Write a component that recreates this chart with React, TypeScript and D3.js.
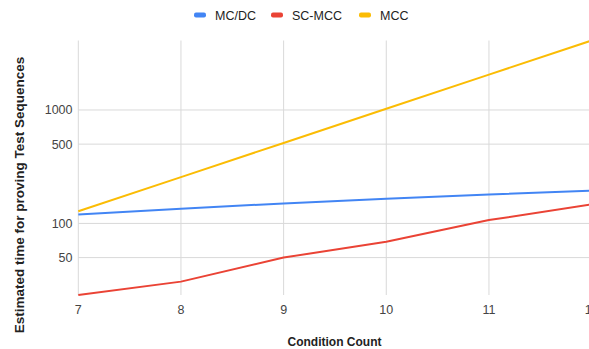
import React from "react";
import * as d3 from "d3";

const conditionCounts = [7, 8, 9, 10, 11, 12];
const mcdc = [120, 135, 150, 165, 180, 195];
const scmcc = [23.4, 30.7, 50, 69, 107, 147];
const mcc = [128, 256, 512, 1024, 2048, 4096];
const yTicks = [50, 100, 500, 1000];
const seriesNames = ["MC/DC", "SC-MCC", "MCC"];
const seriesColors = ["#4285F4", "#EA4335", "#FBBC04"];

const W = 589;
const H = 349;
const FONT = "Arial, 'Liberation Sans', sans-serif";

export default function App() {
  const x = d3.scaleLinear().domain([7, 12]).range([78.3, 591.6]);
  const allVals = [...mcdc, ...scmcc, ...mcc];
  const y = d3
    .scaleLog()
    .domain([d3.min(allVals) as number, d3.max(allVals) as number])
    .range([295, 40.5]);
  const line = d3
    .line<number>()
    .x((_, i) => x(conditionCounts[i]))
    .y((d) => y(d));
  const series = [mcdc, scmcc, mcc];
  const [yTop, yBot] = [y.range()[1], y.range()[0]];

  const legendX = [194, 271, 359];
  return (
    <svg
      width={W}
      height={H}
      style={{ position: "absolute", left: 0, top: 0, background: "#fff" }}
      fontFamily={FONT}
    >
      <rect width={W} height={H} fill="#fff" />
      {/* legend */}
      {seriesNames.map((n, i) => (
        <g key={n} transform={`translate(${legendX[i]},15)`}>
          <rect x={0} y={-2.5} width={12} height={5} rx={2} fill={seriesColors[i]} />
          <text x={21} y={4.5} fontSize={12.5} fill="#222">
            {n}
          </text>
        </g>
      ))}
      {/* horizontal gridlines */}
      {yTicks.map((t) => (
        <g key={t}>
          <line x1={x(7)} x2={W} y1={y(t)} y2={y(t)} stroke="#d9d9d9" strokeWidth={1} />
          <text x={72.5} y={y(t)} dy="0.35em" textAnchor="end" fontSize={12.5} fill="#444">
            {t}
          </text>
        </g>
      ))}
      {/* vertical gridlines */}
      {conditionCounts.map((c) => (
        <g key={c}>
          <line x1={x(c)} x2={x(c)} y1={yTop} y2={yBot} stroke="#d9d9d9" strokeWidth={1} />
          <text x={x(c)} y={310} dy="0.35em" textAnchor="middle" fontSize={12.5} fill="#444">
            {c}
          </text>
        </g>
      ))}
      {/* lines */}
      {series.map((s, i) => (
        <path
          key={i}
          d={line(s) || ""}
          fill="none"
          stroke={seriesColors[i]}
          strokeWidth={2}
          strokeLinejoin="round"
        />
      ))}
      {/* axis titles */}
      <text
        x={334.5}
        y={341.5}
        dy="0.35em"
        textAnchor="middle"
        fontSize={12}
        fontWeight="bold"
        fill="#222"
      >
        Condition Count
      </text>
      <text
        transform={`translate(19,195) rotate(-90)`}
        dy="0.35em"
        textAnchor="middle"
        fontSize={13.5}
        fontWeight="bold"
        fill="#222"
      >
        Estimated time for proving Test Sequences
      </text>
    </svg>
  );
}
